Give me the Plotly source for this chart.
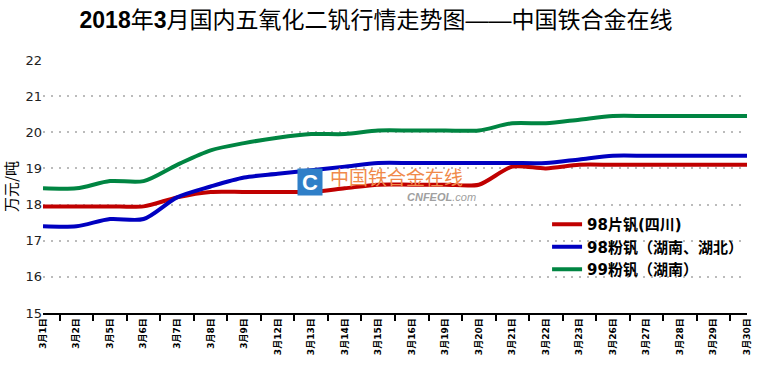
import plotly.graph_objects as go

dates = ["3月1日", "3月2日", "3月5日", "3月6日", "3月7日", "3月8日", "3月9日", "3月12日",
         "3月13日", "3月14日", "3月15日", "3月16日", "3月19日", "3月20日", "3月21日",
         "3月22日", "3月23日", "3月26日", "3月27日", "3月28日", "3月29日", "3月30日"]

flake98_sichuan = [17.95, 17.95, 17.95, 17.95, 18.2, 18.35, 18.35, 18.35, 18.35, 18.45, 18.55,
                   18.55, 18.55, 18.55, 19.05, 19.0, 19.1, 19.1, 19.1, 19.1, 19.1, 19.1]
powder98_hunan_hubei = [17.4, 17.4, 17.6, 17.6, 18.2, 18.5, 18.75, 18.85, 18.95, 19.05, 19.15,
                        19.15, 19.15, 19.15, 19.15, 19.15, 19.25, 19.35, 19.35, 19.35, 19.35, 19.35]
powder99_hunan = [18.45, 18.45, 18.65, 18.65, 19.1, 19.5, 19.7, 19.85, 19.95, 19.95, 20.05,
                  20.05, 20.05, 20.05, 20.25, 20.25, 20.35, 20.45, 20.45, 20.45, 20.45, 20.45]

series_names = ["98片钒(四川)", "98粉钒（湖南、湖北）", "99粉钒（湖南）"]
series_colors = ["#C00000", "#0000C0", "#008542"]
series_values = [flake98_sichuan, powder98_hunan_hubei, powder99_hunan]

fig = go.Figure()
for name, color, vals in zip(series_names, series_colors, series_values):
    fig.add_trace(go.Scatter(
        x=dates, y=vals, name=name, mode="lines",
        line=dict(color=color, width=4, shape="spline", smoothing=0.8),
    ))

fig.update_layout(
    width=760, height=367,
    margin=dict(l=43, r=13, t=60, b=54, autoexpand=False),
    paper_bgcolor="white", plot_bgcolor="white",
    title=dict(
        text="<b>2018</b>年<b>3</b>月国内五氧化二钒行情走势图——中国铁合金在线",
        x=376 / 760, xanchor="center", y=1 - 20 / 367, yanchor="middle",
        font=dict(family="Liberation Sans, Noto Sans CJK SC", size=23, color="#000000"),
    ),
    showlegend=True,
    legend=dict(
        x=0.716, y=0.415, xanchor="left", yanchor="top",
        bgcolor="rgba(255,255,255,0)",
        font=dict(family="DejaVu Sans, Noto Sans CJK SC", size=15, color="#000000", weight="bold"),
        itemwidth=30, tracegroupgap=0,
    ),
    xaxis=dict(
        type="category", tickangle=-90, tickson="boundaries", automargin=False,
        ticks="outside", ticklen=6, tickcolor="#000000", tickwidth=1.5,
        showline=True, linecolor="#000000", linewidth=1.5,
        showgrid=False,
        tickfont=dict(family="DejaVu Sans, Noto Sans CJK SC", size=9, color="#000000", weight="bold"),
    ),
    yaxis=dict(
        range=[15, 22], dtick=1, tick0=15, automargin=False,
        showgrid=True, gridcolor="#BBBBBB", griddash="2px,6px", gridwidth=1.5,
        zeroline=False, showline=False, ticks="",
        tickfont=dict(family="DejaVu Sans", size=13, color="#222222"),
        title=dict(text="万元/吨", font=dict(family="Noto Sans CJK SC", size=15, color="#000000"), standoff=6),
    ),
    annotations=[
        dict(text="<b>C</b>", xref="paper", yref="paper", x=(310 - 43) / 704, y=(313 - 182) / 253,
             showarrow=False, font=dict(family="Liberation Sans", size=22, color="white"),
             bgcolor="#2F7FC8", width=24, height=26, borderpad=0),
        dict(text="中国铁合金在线", xref="paper", yref="paper", x=(328 - 43) / 704, y=(313 - 176) / 253,
             xanchor="left", showarrow=False,
             font=dict(family="Noto Sans CJK SC", size=19, color="#F08A4B")),
        dict(text="<i><b>CNFEOL</b>.com</i>", xref="paper", yref="paper", x=(405 - 43) / 704, y=(313 - 197) / 253,
             xanchor="left", showarrow=False,
             font=dict(family="Liberation Sans", size=11, color="#A0A0A0")),
    ],
)

fig.write_html("out.html", config={"displayModeBar": False},
               post_script="document.body.style.margin='0';document.body.style.overflow='hidden';")
